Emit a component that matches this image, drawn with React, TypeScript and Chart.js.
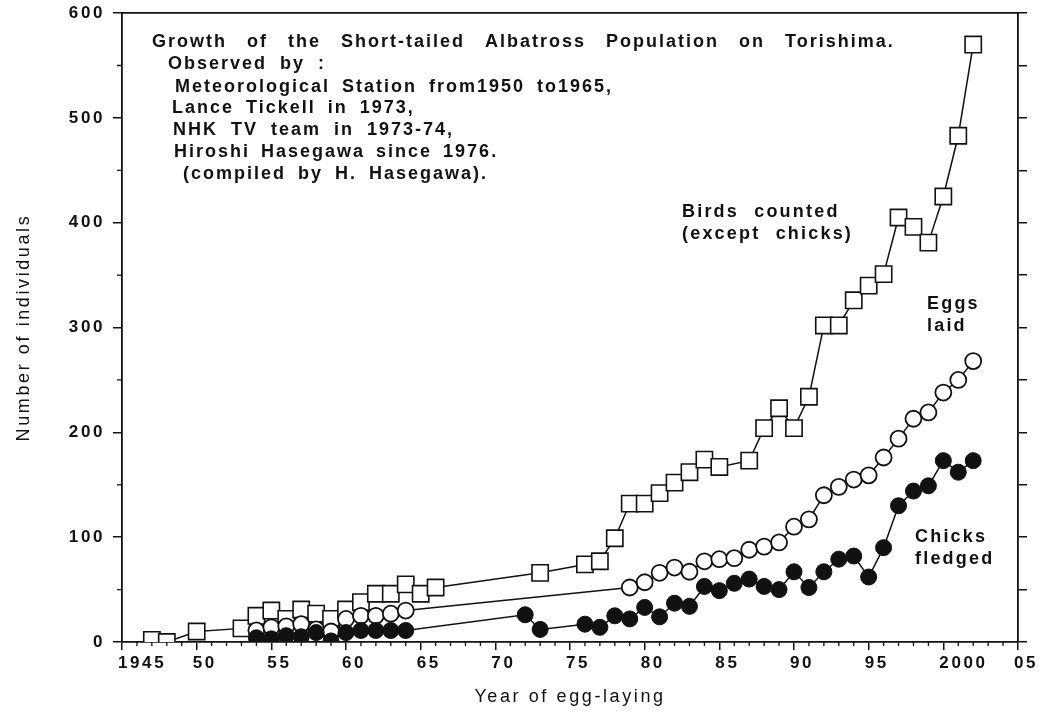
import React, { useEffect, useRef } from 'react';
import { Chart, registerables } from 'chart.js';

Chart.register(...registerables);

// ---- Data ----
const birdYears = [1947, 1948, 1950, 1953, 1954, 1955, 1956, 1957, 1958, 1959, 1960, 1961, 1962, 1963, 1964, 1965, 1966, 1973, 1976, 1977, 1978, 1979, 1980, 1981, 1982, 1983, 1984, 1985, 1987, 1988, 1989, 1990, 1991, 1992, 1993, 1994, 1995, 1996, 1997, 1998, 1999, 2000, 2001, 2002];
const birdCounts = [2, 0, 10, 13, 25, 30, 22, 31, 27, 22, 31, 38, 46, 46, 55, 46, 52, 66, 74, 77, 99, 132, 132, 142, 152, 162, 174, 167, 173, 204, 223, 204, 234, 302, 302, 326, 340, 351, 405, 396, 381, 425, 483, 570];

const eggYears = [1954, 1955, 1956, 1957, 1958, 1959, 1960, 1961, 1962, 1963, 1964, 1979, 1980, 1981, 1982, 1983, 1984, 1985, 1986, 1987, 1988, 1989, 1990, 1991, 1992, 1993, 1994, 1995, 1996, 1997, 1998, 1999, 2000, 2001, 2002];
const eggCounts = [11, 14, 15, 17, 12, 10, 22, 25, 25, 27, 30, 52, 57, 66, 71, 67, 77, 79, 80, 88, 91, 95, 110, 117, 140, 148, 155, 159, 176, 194, 213, 219, 238, 250, 268];

const chickYears = [1954, 1955, 1956, 1957, 1958, 1959, 1960, 1961, 1962, 1963, 1964, 1972, 1973, 1976, 1977, 1978, 1979, 1980, 1981, 1982, 1983, 1984, 1985, 1986, 1987, 1988, 1989, 1990, 1991, 1992, 1993, 1994, 1995, 1996, 1997, 1998, 1999, 2000, 2001, 2002];
const chickCounts = [4, 3, 6, 5, 9, 1, 9, 11, 11, 11, 11, 26, 12, 17, 14, 25, 22, 33, 24, 37, 34, 53, 49, 56, 60, 53, 50, 67, 52, 67, 79, 82, 62, 90, 130, 144, 149, 173, 162, 173];

const xMin = 1945;
const xMax = 2005;
const xTickLabels = ['1945', '50', '55', '60', '65', '70', '75', '80', '85', '90', '95', '2000', '05'];
const yMin = 0;
const yMax = 600;

const noteLines = [
  'Growth of the Short-tailed Albatross Population on Torishima.',
  'Observed by :',
  'Meteorological Station from1950 to1965,',
  'Lance Tickell in 1973,',
  'NHK TV team in 1973-74,',
  'Hiroshi Hasegawa since 1976.',
  '(compiled by H. Hasegawa).',
];
const birdLabel = ['Birds counted', '(except chicks)'];
const eggLabel = ['Eggs', 'laid'];
const chickLabel = ['Chicks', 'fledged'];

const INK = '#111111';
const SANS = "'Liberation Sans', Arial, sans-serif";
const NARROW = "'Liberation Sans Narrow', 'Liberation Sans', Arial, sans-serif";

const toPoints = (xs: number[], ys: number[]) => xs.map((x, i) => ({ x, y: ys[i] }));

const spacingPlugin = {
  id: 'spacing',
  beforeDraw(chart: any) {
    (chart.ctx as any).letterSpacing = '2.6px';
  },
  afterDraw(chart: any) {
    (chart.ctx as any).letterSpacing = '0px';
  },
};

const minorTicksPlugin = {
  id: 'minorTicks',
  afterDraw(chart: any) {
    const { ctx } = chart;
    const x = chart.scales.x;
    const y = chart.scales.y;
    ctx.save();
    ctx.strokeStyle = INK;
    ctx.lineWidth = 1.3;
    ctx.beginPath();
    for (let yr = xMin + 1; yr < xMax; yr++) {
      if (yr % 5 === 0) continue;
      const px = x.getPixelForValue(yr);
      ctx.moveTo(px, x.top);
      ctx.lineTo(px, x.top + 4);
    }
    for (let v = 50; v < yMax; v += 100) {
      const py = y.getPixelForValue(v);
      ctx.moveTo(y.right, py);
      ctx.lineTo(y.right - 5, py);
    }
    ctx.stroke();
    ctx.restore();
  },
};

const notesPlugin = {
  id: 'notes',
  afterDraw(chart: any) {
    const ctx = chart.ctx as any;
    ctx.save();
    ctx.fillStyle = INK;
    ctx.textBaseline = 'middle';
    ctx.textAlign = 'left';
    ctx.font = `bold 18px ${SANS}`;
    ctx.letterSpacing = '2px';
    const noteX = [152, 168, 175, 172, 173, 174, 183];
    const noteY = [42, 64, 87, 108, 130, 152, 174];
    const noteWordGap = [13, 6, 5, 5, 6, 4, 5];
    noteLines.forEach((t, i) => {
      ctx.wordSpacing = `${noteWordGap[i]}px`;
      ctx.fillText(t, noteX[i], noteY[i]);
    });

    ctx.letterSpacing = '2.2px';
    ctx.wordSpacing = '8px';
    ctx.fillText(birdLabel[0], 682, 212);
    ctx.fillText(birdLabel[1], 682, 234);
    ctx.fillText(eggLabel[0], 927, 304);
    ctx.fillText(eggLabel[1], 927, 326);
    ctx.fillText(chickLabel[0], 915, 537);
    ctx.fillText(chickLabel[1], 915, 559);
    ctx.restore();
  },
};

const noVerticalPadding = (s: any) => {
  s.paddingTop = 0;
  s.paddingBottom = 0;
};

export default function App() {
  const canvasRef = useRef<HTMLCanvasElement | null>(null);

  useEffect(() => {
    document.body.style.margin = '0';
    const canvas = canvasRef.current;
    if (!canvas) return;

    const chart = new Chart(canvas, {
      type: 'line',
      data: {
        datasets: [
          {
            label: 'Chicks fledged',
            data: toPoints(chickYears, chickCounts),
            borderColor: INK,
            borderWidth: 1.5,
            pointStyle: 'circle',
            pointRadius: 8,
            pointBackgroundColor: INK,
            pointBorderColor: INK,
            pointBorderWidth: 1,
            order: 0,
          },
          {
            label: 'Eggs laid',
            data: toPoints(eggYears, eggCounts),
            borderColor: INK,
            borderWidth: 1.5,
            pointStyle: 'circle',
            pointRadius: 8,
            pointBackgroundColor: '#ffffff',
            pointBorderColor: INK,
            pointBorderWidth: 1.8,
            order: 1,
          },
          {
            label: 'Birds counted (except chicks)',
            data: toPoints(birdYears, birdCounts),
            borderColor: INK,
            borderWidth: 1.5,
            pointStyle: 'rect',
            pointRadius: 11.5,
            pointBackgroundColor: '#ffffff',
            pointBorderColor: INK,
            pointBorderWidth: 1.6,
            order: 2,
          },
        ],
      },
      options: {
        animation: false,
        responsive: false,
        devicePixelRatio: 1,
        layout: { padding: { top: 0, left: 0, right: 0, bottom: 0 } },
        plugins: {
          legend: { display: false },
          tooltip: { enabled: false },
        },
        elements: { line: { tension: 0, fill: false } },
        scales: {
          x: {
            type: 'linear',
            position: 'bottom',
            min: xMin,
            max: xMax,
            ticks: {
              stepSize: 5,
              color: INK,
              font: { family: SANS, size: 17, weight: 'bold' },
              padding: 3,
              align: 'start',
              labelOffset: -4,
              maxRotation: 0,
              autoSkip: false,
              callback: (v: any) => {
                const idx = Math.round((Number(v) - xMin) / 5);
                return xTickLabels[idx] ?? '';
              },
            },
            grid: { drawOnChartArea: false, drawTicks: true, tickLength: 8, color: INK, lineWidth: 1.5 },
            border: { display: true, color: INK, width: 1.8 },
            title: {
              display: true,
              text: 'Year of egg-laying',
              color: INK,
              font: { family: NARROW, size: 18, weight: 'normal' },
              padding: { top: 0, bottom: 5 },
            },
            afterFit: (s: any) => {
              s.height = 71;
            },
          },
          x2: {
            type: 'linear',
            position: 'top',
            min: xMin,
            max: xMax,
            ticks: { display: false },
            grid: { display: false, drawTicks: false },
            border: { display: true, color: INK, width: 1.8 },
            afterFit: (s: any) => {
              s.height = 12;
            },
          },
          y: {
            type: 'linear',
            position: 'left',
            min: yMin,
            max: yMax,
            ticks: {
              stepSize: 100,
              color: INK,
              font: { family: SANS, size: 17, weight: 'bold' },
              padding: 8,
            },
            grid: { drawOnChartArea: false, drawTicks: true, tickLength: 9, color: INK, lineWidth: 1.5 },
            border: { display: true, color: INK, width: 1.8 },
            title: {
              display: true,
              text: 'Number of individuals',
              color: INK,
              font: { family: NARROW, size: 18, weight: 'normal' },
              padding: { top: 13, bottom: 0 },
            },
            afterFit: (s: any) => {
              s.width = 122;
              noVerticalPadding(s);
            },
          },
          y2: {
            type: 'linear',
            position: 'right',
            min: yMin,
            max: yMax,
            ticks: { display: false, stepSize: 50 },
            grid: { drawOnChartArea: false, drawTicks: true, tickLength: 9, color: INK, lineWidth: 1.5 },
            border: { display: true, color: INK, width: 1.8 },
            afterFit: (s: any) => {
              s.width = 43;
              noVerticalPadding(s);
            },
          },
        },
      },
      plugins: [spacingPlugin, minorTicksPlugin, notesPlugin],
    } as any);

    return () => {
      chart.destroy();
    };
  }, []);

  return (
    <div style={{ width: 1061, height: 713, background: '#ffffff' }}>
      <canvas ref={canvasRef} width={1061} height={713} style={{ display: 'block' }} />
    </div>
  );
}
